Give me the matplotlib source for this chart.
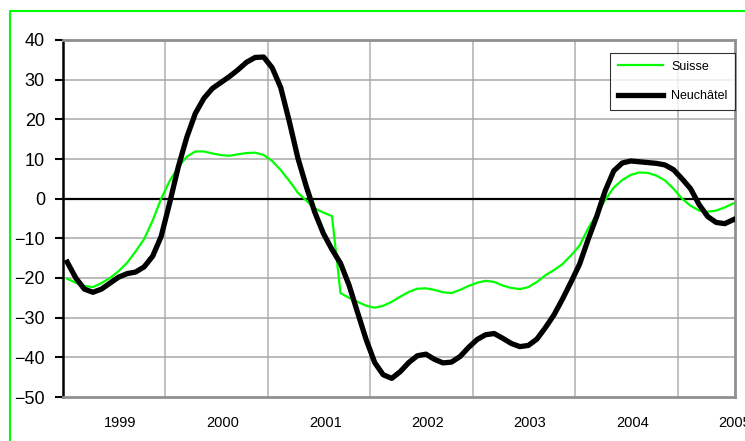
import numpy as np
import matplotlib
matplotlib.use("Agg")
import matplotlib.pyplot as plt
from matplotlib.lines import Line2D

plt.rcParams['font.family'] = ['Liberation Sans', 'DejaVu Sans']

# monthly values, Jan 1999 .. Jul 2005
suisse = [-20.2, -21.2, -22.0, -22.3, -21.3, -20.0, -18.3, -16.2, -13.3, -10.2, -5.5, 0.0,
          4.5, 8.0, 10.6, 11.9, 11.9, 11.4, 11.0, 10.8, 11.2, 11.5, 11.6, 11.0,
          9.5, 7.2, 4.5, 1.5, -0.5, -2.5, -3.5, -4.4, -23.8, -25.0, -26.0, -27.0,
          -27.5, -27.0, -26.0, -24.7, -23.5, -22.7, -22.6, -23.0, -23.6, -23.8, -23.0, -22.0,
          -21.2, -20.7, -21.0, -21.9, -22.5, -22.8, -22.3, -21.0, -19.3, -18.0, -16.5, -14.3,
          -11.8, -7.5, -4.0, -0.3, 2.8, 4.7, 6.0, 6.6, 6.5, 5.8, 4.6, 2.5,
          0.0, -1.8, -3.0, -3.3, -3.0, -2.2, -1.2]
neuchatel = [-16.0, -20.0, -22.8, -23.6, -22.8, -21.3, -19.8, -18.9, -18.5, -17.2, -14.5, -9.5,
             -1.0, 8.0, 15.5, 21.5, 25.3, 27.8, 29.3, 30.8, 32.5, 34.4, 35.6, 35.7,
             33.0, 28.0, 19.5, 10.3, 3.0, -3.5, -8.8, -12.8, -16.3, -21.8, -28.7, -35.5,
             -41.3, -44.4, -45.3, -43.6, -41.3, -39.6, -39.2, -40.5, -41.4, -41.2, -39.8, -37.5,
             -35.5, -34.3, -34.0, -35.2, -36.5, -37.3, -37.0, -35.4, -32.5, -29.3, -25.3, -21.0,
             -16.5, -10.3, -4.5, 2.0, 7.0, 9.0, 9.5, 9.3, 9.1, 8.9, 8.5, 7.3,
             5.0, 2.5, -1.5, -4.5, -6.0, -6.3, -5.3]
years = ['1999', '2000', '2001', '2002', '2003', '2004', '2005']

months = np.arange(len(suisse))

W, H = 745, 441
fig = plt.figure(figsize=(W / 100, H / 100), dpi=100)
ax = fig.add_axes([63 / W, 1 - 397 / H, (735 - 63) / W, (397 - 40) / H])

# green frame around the chart
fig.add_artist(Line2D([10 / W, 10 / W, 1.0], [0.0, 1 - 11 / H, 1 - 11 / H],
                      transform=fig.transFigure, color='#00ff00', lw=1.5))

ax.plot(months, suisse, color='#00ff00', lw=1.6, label='Suisse', zorder=3)
ax.plot(months, neuchatel, color='black', lw=3.8, label='Neuchâtel', zorder=4)
ax.axhline(0, color='black', lw=1.6, zorder=2)

ax.set_ylim(-50, 40)
ax.set_yticks(range(-50, 41, 10))
ax.set_xlim(-0.5, 78.2)

# year boundaries as grid, labels in the middle of the year
for k in range(1, len(years)):
    ax.axvline(12 * k - 0.5, color='#b0b0b0', lw=1.1, zorder=1)
for v in range(-40, 40, 10):
    ax.axhline(v, color='#a8a8a8', lw=1.1, zorder=1)

ax.set_xticks([12 * k + 6.2 for k in range(len(years))])
ax.set_xticklabels(years, fontsize=10.5)
ax.tick_params(axis='x', length=0, pad=14)
ax.tick_params(axis='y', labelsize=13, length=6, width=1.5, pad=7, direction='out')

for s in ['top', 'right', 'bottom']:
    ax.spines[s].set_color('#909090')
    ax.spines[s].set_linewidth(2)
ax.spines['left'].set_color('black')
ax.spines['left'].set_linewidth(1.8)

leg = ax.legend(loc='upper left', bbox_to_anchor=(610 / W, 1 - 53 / H),
                bbox_transform=fig.transFigure, fontsize=9, frameon=True,
                fancybox=False, edgecolor='black', handlelength=3.6,
                labelspacing=1.4, borderpad=0.6, handletextpad=0.7,
                borderaxespad=0)
leg.get_frame().set_linewidth(0.8)

fig.savefig('out.png', dpi=100)
